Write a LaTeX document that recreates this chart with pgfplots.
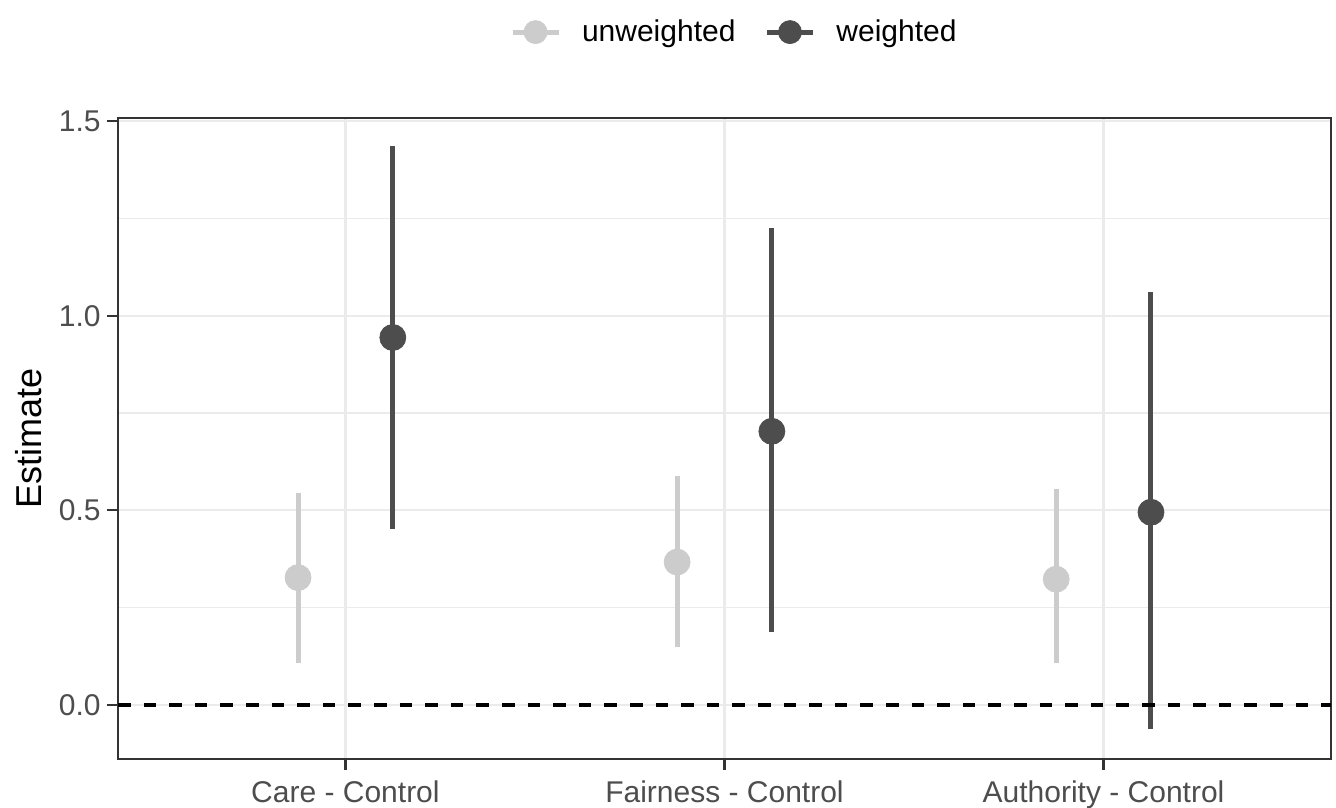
\documentclass[border=0pt]{standalone}
\usepackage{pgfplots}
\usepackage{pgfplotstable}
\pgfplotsset{compat=1.18}
\usepackage{fontspec}
\setmainfont{Liberation Sans}
\definecolor{cU}{HTML}{CCCCCC}
\definecolor{cW}{HTML}{4D4D4D}
\definecolor{cTick}{HTML}{4D4D4D}
\definecolor{cAxis}{HTML}{333333}
\definecolor{cGrid}{HTML}{EBEBEB}

\pgfplotstableread{
x y lo hi
-0.125 0.327 0.107 0.544
0.875 0.367 0.148 0.588
1.875 0.323 0.107 0.554
}\unweighted
\pgfplotstableread{
x y lo hi
0.125 0.944 0.451 1.435
1.125 0.703 0.187 1.225
2.125 0.495 -0.062 1.060
}\weighted

\begin{document}
\begin{tikzpicture}
\useasboundingbox (-59bp,-24.5bp) rectangle (609bp,379.5bp);
\begin{axis}[
  at={(0,0)}, anchor=south west,
  scale only axis, width=606.5bp, height=320.5bp,
  xmin=-0.6, xmax=2.6, ymin=-0.139, ymax=1.508,
  xtick={0,1,2},
  xticklabels={Care - Control, Fairness - Control, Authority - Control},
  ytick={0,0.5,1,1.5}, minor ytick={0.25,0.75,1.25},
  xmajorgrids, ymajorgrids, yminorgrids,
  major grid style={cGrid, line width=1.1bp},
  minor grid style={cGrid, line width=0.6bp},
  axis line style={cAxis, line width=1.1bp},
  tick style={cAxis, line width=1.1bp},
  major tick length=5.5bp, minor tick length=0pt,
  tick align=outside, tick pos=left,
  /pgf/number format/assume math mode=true,
  ticklabel style={font=\fontsize{15bp}{18bp}\selectfont, text=cTick, inner sep=0pt},
  yticklabel style={/pgf/number format/fixed, /pgf/number format/fixed zerofill, /pgf/number format/precision=1, xshift=-3bp},
  xticklabel style={yshift=-5bp},
  ylabel={Estimate},
  ylabel style={at={(axis description cs:-0.0627,0.5)}, anchor=south, inner sep=0pt, font=\fontsize{18bp}{21bp}\selectfont},
  legend columns=2,
  legend style={at={(axis description cs:0.3232,1.1340)}, anchor=west, draw=none, fill=none, inner sep=0pt, outer sep=0pt,
    font=\fontsize{15bp}{18bp}\selectfont, nodes={inner sep=0pt}, column sep=10.5bp,
    /tikz/every even column/.append style={column sep=14.5bp}},
]
\addplot[only marks, mark=*, mark size=6.5bp, color=cU, mark options={fill=cU, draw=none},
  legend image code/.code={\draw[line width=2.5bp, cU] (0bp,0bp)--(23bp,0bp); \fill[cU] (11.5bp,0bp) circle[radius=5.75bp];},
  error bars/.cd, y dir=both, y explicit, error mark=none,
  error bar style={line width=2.5bp, color=cU}]
  table[x=x, y=y, y error plus expr=\thisrow{hi}-\thisrow{y}, y error minus expr=\thisrow{y}-\thisrow{lo}] {\unweighted};
\addlegendentry{unweighted}
\addplot[only marks, mark=*, mark size=6.5bp, color=cW, mark options={fill=cW, draw=none},
  legend image code/.code={\draw[line width=2.5bp, cW] (0bp,0bp)--(23bp,0bp); \fill[cW] (11.5bp,0bp) circle[radius=5.75bp];},
  error bars/.cd, y dir=both, y explicit, error mark=none,
  error bar style={line width=2.5bp, color=cW}]
  table[x=x, y=y, y error plus expr=\thisrow{hi}-\thisrow{y}, y error minus expr=\thisrow{y}-\thisrow{lo}] {\weighted};
\addlegendentry{weighted}
\addplot[black, line width=2bp, dash pattern=on 6.3bp off 6.5bp, forget plot] coordinates {(-0.6,0) (2.6,0)};
\end{axis}
\end{tikzpicture}
\end{document}
